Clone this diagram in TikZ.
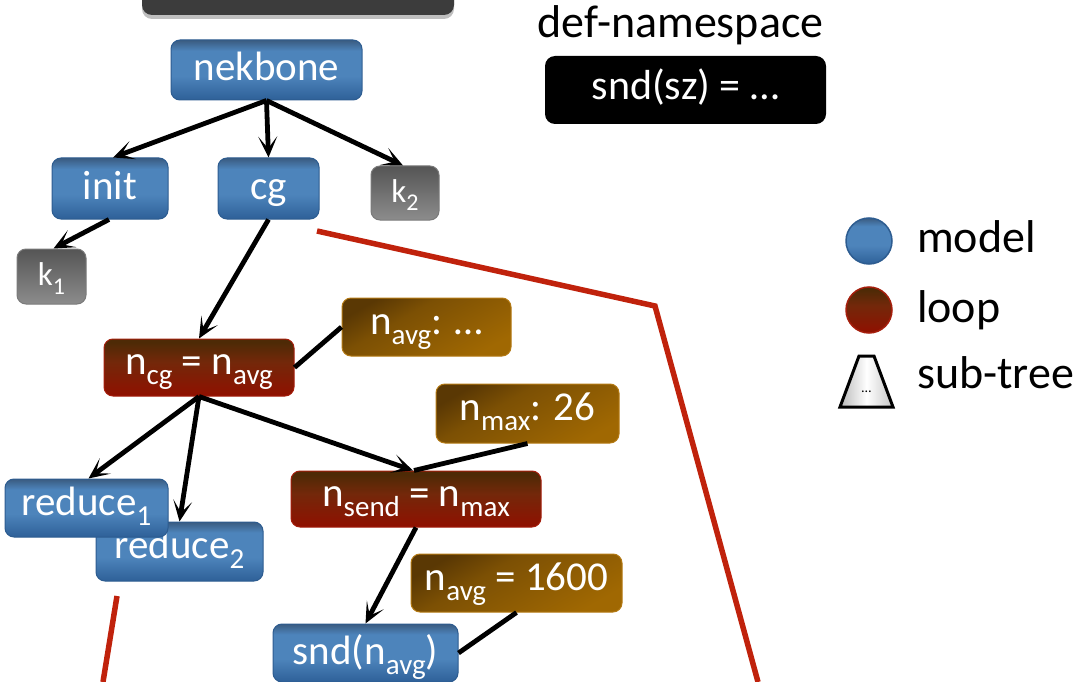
\documentclass[tikz,border=0pt]{standalone}
\usepackage{fontspec}
\setmainfont{Carlito}
\usetikzlibrary{arrows.meta,shadows}

% palette
\definecolor{blueTop}{HTML}{3A5B80}
\definecolor{blueHi}{HTML}{4D84BB}
\definecolor{blueBot}{HTML}{2E6098}
\definecolor{blueLine}{HTML}{2D5C90}
\definecolor{loopTop}{HTML}{4E2A06}
\definecolor{loopMid}{HTML}{73280A}
\definecolor{loopBot}{HTML}{901000}
\definecolor{loopLine}{HTML}{A51E0C}
\definecolor{argTop}{HTML}{5A3804}
\definecolor{argMid}{HTML}{7C5004}
\definecolor{argBot}{HTML}{A06802}
\definecolor{argLine}{HTML}{B47A14}
\definecolor{keyTop}{HTML}{555555}
\definecolor{keyBot}{HTML}{8C8C8C}
\definecolor{keyLine}{HTML}{7A7A7A}
\definecolor{cut}{HTML}{C0220C}
\definecolor{bar}{HTML}{3C3C3C}

% box fills (bottom to top)
\pgfdeclareverticalshading{modelfill}{100bp}{color(0bp)=(blueBot); color(25bp)=(blueBot); color(45bp)=(blueHi); color(66bp)=(blueHi); color(75bp)=(blueTop); color(100bp)=(blueTop)}
\pgfdeclareverticalshading{loopfill}{100bp}{color(0bp)=(loopBot); color(25bp)=(loopBot); color(55bp)=(loopMid); color(72bp)=(loopTop); color(100bp)=(loopTop)}
\pgfdeclareverticalshading{argfill}{100bp}{color(0bp)=(argBot); color(25bp)=(argBot); color(60bp)=(argMid); color(75bp)=(argTop); color(100bp)=(argTop)}
\pgfdeclareverticalshading{keyfill}{100bp}{color(0bp)=(keyBot); color(25bp)=(keyBot); color(75bp)=(keyTop); color(100bp)=(keyTop)}

\newcommand\subtxt[1]{\raisebox{-10pt}{\fontsize{29}{29}\selectfont #1}}
\newcommand\ksubtxt[1]{\raisebox{-9pt}{\fontsize{24}{24}\selectfont #1}}

\tikzset{
  box/.style={rounded corners=9pt, line width=1pt, text=white, inner sep=0pt,
    font=\fontsize{41}{41}\selectfont, text height=28pt, text depth=6pt},
  sz/.style 2 args={minimum width=#1, minimum height=#2},
  model/.style={box, draw=blueLine, shade, shading=modelfill},
  loopbox/.style={box, draw=loopLine, shade, shading=loopfill},
  argbox/.style={box, draw=argLine, shade, shading=argfill, shading angle=30},
  keybox/.style={box, draw=keyLine, shade, shading=keyfill,
    font=\fontsize{33}{33}\selectfont, text height=22pt, text depth=4pt},
  lowered/.style={text height=26pt, text depth=12pt},
  link/.style={line width=4.8pt, black, -{Stealth[length=21pt,width=19pt,inset=12pt]}},
  tie/.style={line width=4.8pt, black},
  legend/.style={anchor=base west, inner sep=0pt, font=\fontsize{46}{46}\selectfont},
}

\begin{document}
\begin{tikzpicture}[x=1pt, y=-1pt]
\useasboundingbox (0,0) rectangle (1082,682);

% outline of the expanded sub-tree
\coordinate (c1) at (317,231);
\coordinate (c2) at (655,306);
\coordinate (c3) at (758,682);
\coordinate (c4) at (117,596);
\coordinate (c5) at (103,682);
\draw[cut, line width=5.5pt, line join=miter] (c1) -- (c2) -- (c3);
\draw[cut, line width=5.5pt] (c4) -- (c5);

% header bar
\node[rounded corners=10pt, fill=bar, sz={312pt}{60pt},
  drop shadow={shadow xshift=0pt, shadow yshift=-4pt, opacity=0.25, fill=black}]
  (head) at (298,-15) {};

% tree
\node[model, sz={191pt}{60pt}] (nek) at (266.5,70) {nekbone};
\node[model, sz={116pt}{61pt}] (init) at (110,188.5) {init};
\node[model, sz={101pt}{61pt}] (cg) at (268.5,188.5) {cg};
\node[keybox, sz={68pt}{54pt}] (k2) at (405,193) {k\ksubtxt{2}};
\node[keybox, sz={69pt}{55pt}] (k1) at (51.5,276.5) {k\ksubtxt{1}};

\node[loopbox, lowered, sz={190pt}{57pt}] (ncg) at (199,367.5) {n\subtxt{cg} = n\subtxt{avg}};
\node[argbox, lowered, sz={169pt}{58pt}] (navg) at (426.5,327) {n\subtxt{avg}: …};
\node[argbox, lowered, sz={183pt}{59pt}] (nmax) at (527.5,413.5) {n\subtxt{max}: 26};
\node[loopbox, lowered, sz={250pt}{56pt}] (nsend) at (416,499) {n\subtxt{send} = n\subtxt{max}};
\node[model, lowered, sz={167pt}{59pt}] (red2) at (179.5,551.5) {reduce\subtxt{2}};
\node[model, lowered, sz={163pt}{58pt}] (red1) at (86.5,508) {reduce\subtxt{1}};
\node[argbox, lowered, sz={211pt}{58pt}] (n1600) at (516.5,583) {n\subtxt{avg} = 1600};
\node[model, sz={185pt}{58pt}] (snd) at (365.5,653) {snd(n\subtxt{avg})};

% connectors
\draw[link] (nek.south) -- ([xshift=3pt]init.north);
\draw[link] (nek.south) -- (cg.north);
\draw[link] (nek.south) -- ([xshift=-2pt]k2.north);
\draw[link] ([xshift=-1pt]init.south) -- ([xshift=2pt]k1.north);
\draw[link] (cg.south) -- (ncg.north);
\draw[link] (ncg.south) -- ([xshift=2pt]red1.north);
\draw[link] (ncg.south) -- (red2.north);
\draw[link] (ncg.south) -- ([xshift=-3pt]nsend.north);
\draw[link] (nsend.south) -- (snd.north);
\draw[tie] (navg.west) -- (ncg.east);
\draw[tie] (nmax.south) -- ([xshift=-2pt]nsend.north);
\draw[tie] (n1600.south) -- (snd.east);

% namespace
\node[anchor=base, inner sep=0pt, font=\fontsize{46}{46}\selectfont] (ns) at (680.5,38) {def-namespace};
\node[rounded corners=10pt, fill=black, text=white, inner sep=0pt, sz={281pt}{68pt},
  font=\fontsize{42}{42}\selectfont, text height=28pt, text depth=8pt] (def) at (685.5,90) {snd(sz) = …};

% legend
\node[circle, sz={46pt}{46pt}, draw=blueLine, line width=1.5pt, shade, shading=modelfill] (lm) at (869,241) {};
\node[circle, sz={46pt}{46pt}, draw=loopLine, line width=1.5pt, shade, shading=loopfill] (ll) at (869,310) {};
\draw[line width=3pt, left color=gray!55, right color=gray!45, middle color=white]
  (840,407) -- (893,407) -- (874,356) -- (859,356) -- cycle;
\node[font=\fontsize{14}{14}\selectfont, inner sep=0pt] (ls) at (866.5,392) {…};
\node[legend] (tm) at (917,252) {model};
\node[legend] (tl) at (917,322) {loop};
\node[legend] (ts) at (917,388) {sub-tree};
\end{tikzpicture}
\end{document}
